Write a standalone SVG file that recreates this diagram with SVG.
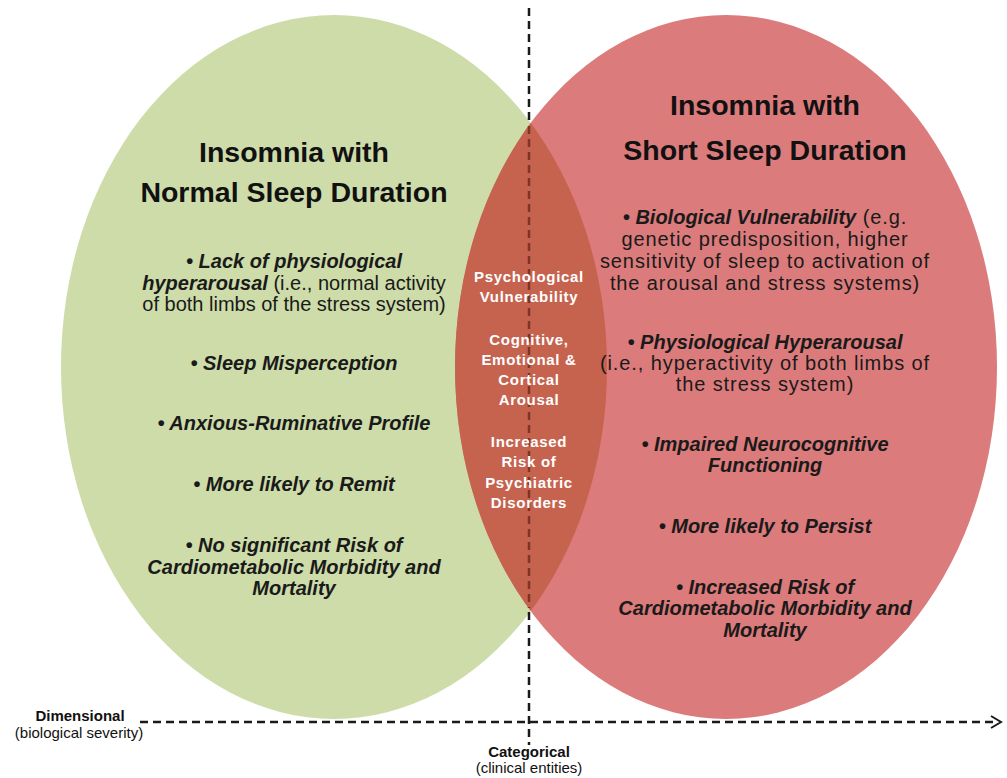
<svg xmlns="http://www.w3.org/2000/svg" width="1007" height="778" viewBox="0 0 1007 778">
<style>
.h{font-family:"Liberation Sans",Arial,sans-serif;font-weight:bold;font-size:28.5px;fill:#111;text-anchor:middle}
.t{font-family:"Liberation Sans",Arial,sans-serif;font-size:20px;fill:#1a1a1a;text-anchor:middle}
.r{letter-spacing:0.9px}
.b{font-weight:bold;font-style:italic}
.c{font-family:"Liberation Sans",Arial,sans-serif;font-weight:bold;font-size:15px;fill:#fff;text-anchor:middle;letter-spacing:0.7px}
.ax{font-family:"Liberation Sans",Arial,sans-serif;font-size:15px;fill:#111;text-anchor:middle}
.dash{stroke:#1a1a1a;stroke-width:2.5;stroke-dasharray:8 5;fill:none}
</style>
<defs>
<clipPath id="gclip"><ellipse cx="334" cy="367" rx="273" ry="352"/></clipPath>
</defs>
<rect width="1007" height="778" fill="#fff"/>
<g id="normal">
<ellipse cx="334" cy="367" rx="273" ry="352" fill="#cddca9"/>
</g>
<g id="short">
<ellipse cx="726" cy="367" rx="271" ry="352" fill="#dc7b7b"/>
</g>
<g id="overlap">
<ellipse cx="726" cy="367" rx="271" ry="352" fill="#c6634f" clip-path="url(#gclip)"/>
</g>
<g id="connectors">
<line x1="529" y1="8" x2="529" y2="122" class="dash"/>
<line x1="529" y1="126" x2="529" y2="608" class="dash" style="stroke:#7d3527"/>
<line x1="529" y1="612" x2="529" y2="745" class="dash"/>
<line x1="140" y1="722" x2="996" y2="722" class="dash"/>
<path d="M991,716 L1001,722 L991,728" fill="none" stroke="#1a1a1a" stroke-width="2"/>
</g>
<g id="normal-text">
<text class="h" x="294" y="162">Insomnia with</text>
<text class="h" x="294" y="202">Normal Sleep Duration</text>
<text class="t" x="294" y="268"><tspan class="b">• Lack of physiological</tspan></text>
<text class="t" x="294" y="290"><tspan class="b">hyperarousal</tspan> (i.e., normal activity</text>
<text class="t" x="294" y="311">of both limbs of the stress system)</text>
<text class="t b" x="294" y="370">• Sleep Misperception</text>
<text class="t b" x="294" y="430">•  Anxious-Ruminative Profile</text>
<text class="t b" x="294" y="491">• More likely to Remit</text>
<text class="t b" x="294" y="552">• No significant Risk of</text>
<text class="t b" x="294" y="574">Cardiometabolic Morbidity and</text>
<text class="t b" x="294" y="595">Mortality</text>
</g>
<g id="short-text">
<text class="h" x="765" y="115">Insomnia with</text>
<text class="h" x="765" y="160">Short Sleep Duration</text>
<text class="t" x="765" y="224"><tspan class="b">• Biological Vulnerability</tspan><tspan class="r"> (e.g.</tspan></text>
<text class="t r" x="765" y="246">genetic predisposition, higher</text>
<text class="t r" x="765" y="268">sensitivity of sleep to activation of</text>
<text class="t r" x="765" y="290">the arousal and stress systems)</text>
<text class="t b" x="765" y="349">• Physiological Hyperarousal</text>
<text class="t r" x="765" y="370">(i.e., hyperactivity of both limbs of</text>
<text class="t r" x="765" y="391">the stress system)</text>
<text class="t b" x="765" y="451">• Impaired Neurocognitive</text>
<text class="t b" x="765" y="472">Functioning</text>
<text class="t b" x="765" y="533">• More likely to Persist</text>
<text class="t b" x="765" y="594">• Increased Risk of</text>
<text class="t b" x="765" y="615">Cardiometabolic Morbidity and</text>
<text class="t b" x="765" y="637">Mortality</text>
</g>
<g id="overlap-text">
<text class="c" x="529" y="282">Psychological</text>
<text class="c" x="529" y="302">Vulnerability</text>
<text class="c" x="529" y="345">Cognitive,</text>
<text class="c" x="529" y="365">Emotional &amp;</text>
<text class="c" x="529" y="385">Cortical</text>
<text class="c" x="529" y="405">Arousal</text>
<text class="c" x="529" y="447">Increased</text>
<text class="c" x="529" y="467">Risk of</text>
<text class="c" x="529" y="488">Psychiatric</text>
<text class="c" x="529" y="508">Disorders</text>
</g>
<g id="axis-labels">
<text class="ax" x="80" y="721" font-weight="bold">Dimensional</text>
<text class="ax" x="79" y="738">(biological severity)</text>
<text class="ax" x="529" y="757" font-weight="bold">Categorical</text>
<text class="ax" x="529" y="773">(clinical entities)</text>
</g>
</svg>
